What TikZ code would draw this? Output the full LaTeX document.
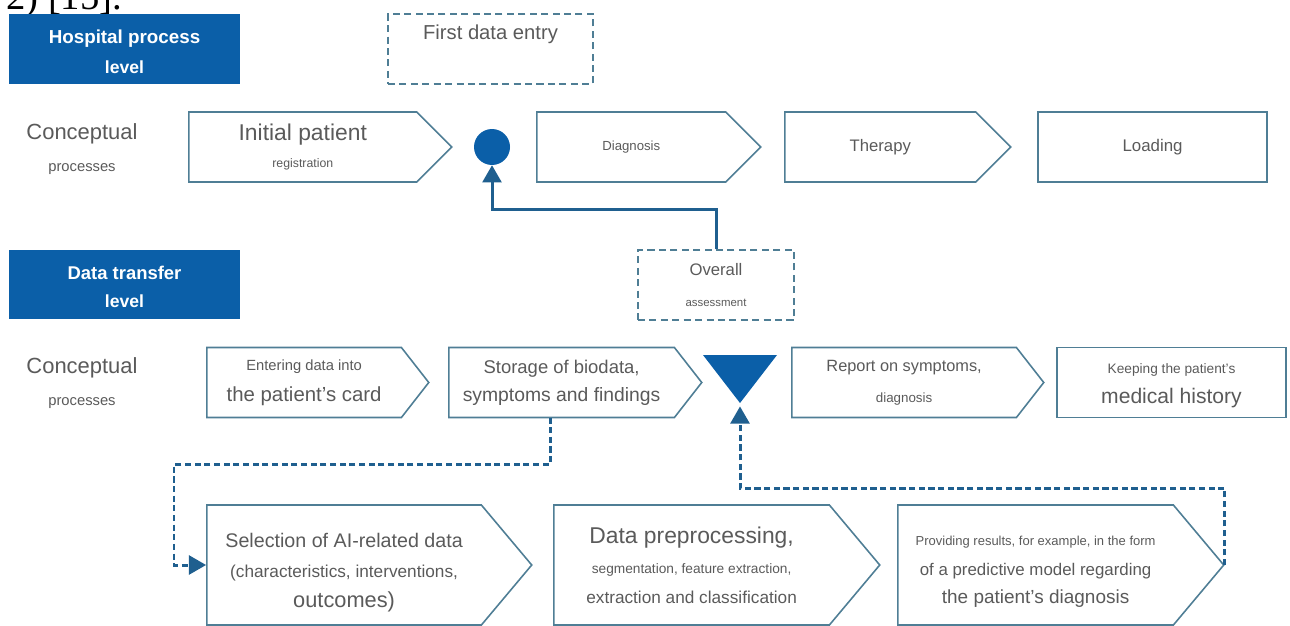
\documentclass[tikz,border=0pt]{standalone}
\usepackage{fontspec}
\setmainfont{Liberation Sans}
\newfontfamily\refserif{Liberation Serif}
\usepackage{tikz}
\usetikzlibrary{calc}
\usetikzlibrary{arrows}
\usetikzlibrary{shapes.symbols}

\newcommand{\fz}[1]{\fontsize{#1}{17}\selectfont}

\definecolor{lvlblue}{HTML}{0B5FA8}
\definecolor{edgegray}{HTML}{4F7E95}
\definecolor{txtgray}{HTML}{5A5A5A}
\definecolor{linkblue}{HTML}{1F5F8F}

\begin{document}
\begin{tikzpicture}[x=0.02cm, y=-0.02cm,
  every node/.style={font=\fontsize{10}{17}\selectfont},
  lvl/.style={rectangle, fill=lvlblue, text=white, font=\fontsize{10}{17}\selectfont\bfseries, minimum width=4.62cm, minimum height=1.4cm, align=center, inner sep=0pt},
  proc/.style={signal, signal to=east, signal from=nowhere, signal pointer angle=90, anchor=west, draw=edgegray, line width=0.9pt, text=txtgray, align=center, minimum height=1.4cm, inner sep=0pt},
  fin/.style={rectangle, draw=edgegray, line width=0.9pt, text=txtgray, align=center, minimum height=1.4cm, inner sep=0pt},
  dbox/.style={rectangle, draw=edgegray, dash pattern=on 4pt off 2.5pt, line width=0.8pt, text=txtgray, align=center, minimum height=1.4cm, inner sep=0pt},
  solidlink/.style={draw=linkblue, line width=1.7pt, ->, >=triangle 60},
  dashlink/.style={solidlink, dash pattern=on 3.5pt off 2pt}]
\useasboundingbox (0,0) rectangle (1290,625);

\node[anchor=base west, font=\refserif\fontsize{22}{26}\selectfont] (REF) at (0,10) {2) [15].};

\node[lvl] (HOSP) at (124.5,49) {\fz{10.7}\rule{0pt}{11.3pt}Hospital process\\[0pt]level};
\node[dbox, minimum width=4.1cm] (FIRST) at (490.5,49) {\fz{11.5}First data entry\\[2pt]\mbox{}};
\node[text=txtgray, align=center] (CONC1) at (82,149) {\fz{12.5}Conceptual\\[1.2pt]\fz{8.4}processes};

\node[proc, minimum width=5.26cm] (INIT) at (188,147) {\fz{13}Initial patient\\[-1.6pt]\fz{7}registration};
\node[circle, fill=lvlblue, minimum size=0.72cm, inner sep=0pt] (DOT) at (492,147) {};
\node[proc, minimum width=4.48cm] (DIAG) at (536,147) {\fz{7.5}Diagnosis};
\node[proc, minimum width=4.52cm] (THER) at (784,147) {\fz{9.5}Therapy};
\node[fin, minimum width=4.58cm] (LOAD) at (1152.5,147) {\fz{9.6}Loading};

\node[lvl, minimum height=1.38cm] (DATA) at (124.5,284.5) {\fz{10.5}\rule{0pt}{10pt}Data transfer\\[-1pt]level};
\node[dbox, minimum width=3.12cm] (OVER) at (716,285) {\fz{9.5}Overall\\[1.2pt]\fz{6.5}assessment};
\node[text=txtgray, align=center] (CONC2) at (82,383) {\fz{12.5}Conceptual\\[1.2pt]\fz{8.4}processes};

\node[proc, signal pointer angle=104, minimum width=4.44cm] (ENTER) at (206,382.5) {\fz{8.4}Entering data into\\[0.6pt]\fz{11.6}the patient's card};
\node[proc, signal pointer angle=104, minimum width=5.06cm] (STORE) at (448,382.5) {\fz{10.5}Storage of biodata,\\[-1pt]\fz{11}symptoms and findings};
\coordinate (TA) at (703,355); \coordinate (TB) at (777,355); \coordinate (TRI) at (740,403);
\fill[lvlblue] (TA) -- (TB) -- (TRI) -- cycle;
\node[proc, signal pointer angle=104, minimum width=5.04cm] (REPORT) at (791,382.5) {\fz{9.3}Report on symptoms,\\[0.5pt]\fz{7.6}diagnosis};
\node[fin, minimum width=4.58cm] (KEEP) at (1171.5,382.5) {\fz{7.8}\rule{0pt}{9pt}Keeping the patient's\\[0pt]\fz{12}medical history};

\node[proc, signal pointer angle=100, minimum width=6.5cm, minimum height=2.4cm] (SELECT) at (206,565) {\fz{11.2}\rule{0pt}{16.5pt}Selection of AI-related data\\\fz{9.8}(characteristics, interventions,\\\fz{12.4}outcomes)};
\node[proc, signal pointer angle=100, minimum width=6.52cm, minimum height=2.4cm] (PREP) at (553,565) {\fz{13}Data preprocessing,\\\fz{7.8}segmentation, feature extraction,\\\fz{9.8}extraction and classification};
\node[proc, signal pointer angle=100, minimum width=6.52cm, minimum height=2.4cm] (PROV) at (897,565) {\fz{7.4}\rule{0pt}{13.5pt}Providing results, for example, in the form\\\fz{9.6}of a predictive model regarding\\[-1pt]\fz{10.8}the patient's diagnosis};

\draw[solidlink] (OVER.north) -- ++(0,-40) -| (DOT.south);
\coordinate (S1) at ($(STORE.west)+(102,35)$);
\draw[dashlink] (S1) -- ++(0,47) -| ($(SELECT.west)+(-32,0)$) -- (SELECT.west);
\draw[dashlink, shorten >=2pt] (PROV.east) -- ++(0,-77) -| (TRI);

\end{tikzpicture}
\end{document}
